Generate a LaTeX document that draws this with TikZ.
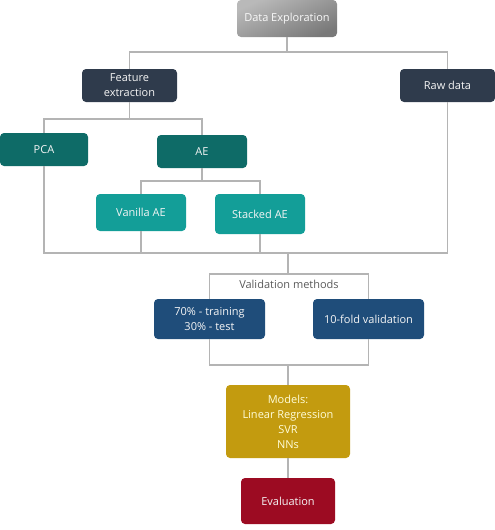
\documentclass[tikz,border=0pt]{standalone}
\usepackage{fontspec}
\setmainfont{Open Sans}
\definecolor{slate}{HTML}{2F3B4C}
\definecolor{tealdark}{HTML}{0E6B67}
\definecolor{teallight}{HTML}{139E98}
\definecolor{navy}{HTML}{1F4D7A}
\definecolor{mustard}{HTML}{C39B0F}
\definecolor{wine}{HTML}{9C0B22}
\definecolor{lineg}{HTML}{B4B4B4}
\definecolor{txtg}{HTML}{5A5A5A}
\tikzset{
  box/.style={rounded corners=4pt, inner sep=2pt, align=center, text=white!92!gray,
    font=\fontsize{11}{15}\selectfont},
  conn/.style={draw=lineg, line width=1.1pt},
}
\begin{document}
\begin{tikzpicture}[x=1pt,y=-1pt]
\useasboundingbox (0,0) rectangle (495,530);
\node[box, minimum width=100pt, minimum height=37pt, shading=axis, top color=gray!55, bottom color=gray!95!black, shading angle=25, text=white!95!gray] (de) at (287,18.5) {Data Exploration};
\node[box, fill=slate, minimum width=95pt, minimum height=33pt] (fe) at (129.5,85.5) {Feature\\extraction};
\node[box, fill=slate, minimum width=95pt, minimum height=33pt] (raw) at (447.5,85.5) {Raw data};
\node[box, fill=tealdark, minimum width=88pt, minimum height=33pt] (pca) at (44,149.5) {PCA};
\node[box, fill=tealdark, minimum width=90pt, minimum height=33pt] (ae) at (202,151.5) {AE};
\node[box, fill=teallight, minimum width=90pt, minimum height=37pt] (vae) at (141,212.5) {Vanilla AE};
\node[box, fill=teallight, minimum width=90pt, minimum height=40pt] (sae) at (260,214) {Stacked AE};
\node[box, fill=navy, minimum width=111pt, minimum height=40pt] (tt) at (209.5,319) {70\% - training\\30\% - test};
\node[box, fill=navy, minimum width=111pt, minimum height=40pt] (vf) at (368.5,319) {10-fold validation};
\node[box, fill=mustard, minimum width=124pt, minimum height=73pt, text=white!85!yellow] (models) at (288,421.5) {Models:\\Linear Regression\\SVR\\NNs};
\node[box, fill=wine, minimum width=94pt, minimum height=46pt] (ev) at (288,501) {Evaluation};
\node[font=\fontsize{11}{15}\selectfont, text=txtg] (vm) at (289,284) {Validation methods};
\coordinate (j1) at (287,52);
\coordinate (j2) at (288,253);
\coordinate (j3) at (288,274);
\coordinate (j4) at (288,365);
\begin{scope}[conn]
\draw (de.south) -- (j1);
\draw (fe.north) |- (j1) -| (raw.north);
\draw (fe.south) -- (fe.south |- 0,119);
\draw (pca.north) |- (fe.south |- 0,119) -| (ae.north);
\draw (ae.south) -- (ae.south |- 0,181);
\draw (vae.north) |- (ae.south |- 0,181) -| (sae.north);
\draw (pca.south) |- (j2) -| (raw.south);
\draw (vae.south) -- (vae.south |- j2);
\draw (sae.south) -- (sae.south |- j2);
\draw (j2) -- (j3);
\draw (tt.north) |- (j3) -| (vf.north);
\draw (tt.south) |- (j4) -| (vf.south);
\draw (j4) -- (models.north);
\draw (models.south) -- (ev.north);
\end{scope}
\end{tikzpicture}
\end{document}
